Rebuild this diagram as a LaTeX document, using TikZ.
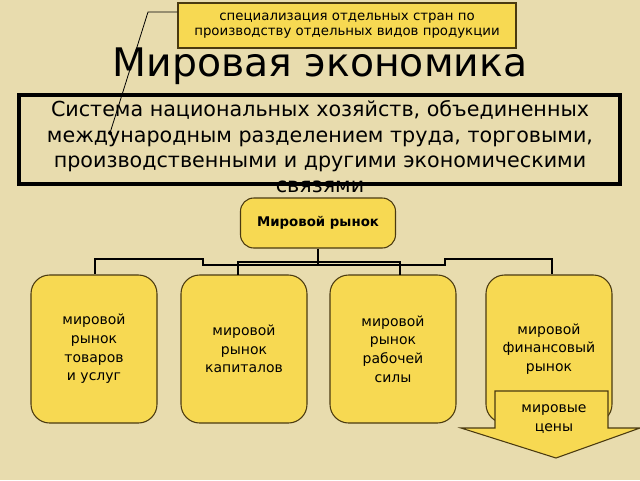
\documentclass[tikz,border=0pt]{standalone}
\usepackage{fontspec}
\setmainfont{DejaVu Sans}
\definecolor{bg}{HTML}{E8DCAE}
\definecolor{yel}{HTML}{F7D952}
\definecolor{edge}{HTML}{4A3A10}
\begin{document}
\begin{tikzpicture}[x=0.75pt,y=-0.75pt,
  box/.style={draw=edge,fill=yel,line width=0.8pt,rounded corners=10pt,align=center,inner sep=0pt},
  conn/.style={line width=1.6pt,black}]
\fill[bg] (0,0) rectangle (640,480);
\useasboundingbox (0,0) rectangle (640,480);
\node[draw=edge,fill=yel,line width=0.8pt,minimum width=338*0.75pt,minimum height=45*0.75pt,align=center,font=\fontsize{10}{11.5}\selectfont] (spec) at (347,25.5) {специализация отдельных стран по\\производству отдельных видов продукции};
\coordinate (c1) at (148,12);
\coordinate (c2) at (110,133);
\draw[line width=0.6pt] (spec.west |- c1) -- (c1) -- (c2);
\fill (c2) circle (1.5pt);
\node[font=\fontsize{29.5}{32}\selectfont] (title) at (320,66) {Мировая экономика};
\draw[line width=3.6pt] (19,95) rectangle (620,184);
\node[align=center,font=\fontsize{15.5}{19}\selectfont] (sys) at (320,147) {Система национальных хозяйств, объединенных\\международным разделением труда, торговыми,\\производственными и другими экономическими\\связями};
\node[box,minimum width=155*0.75pt,minimum height=50*0.75pt,font=\bfseries\fontsize{10}{11}\selectfont] (wm) at (318,223) {Мировой рынок};
\begin{scope}[every node/.style={box,minimum width=126*0.75pt,minimum height=148*0.75pt,font=\fontsize{10.5}{14}\selectfont,rounded corners=14pt}]
\node (m1) at (94,349) {мировой\\рынок\\товаров\\и услуг};
\node (m2) at (244,349) {мировой\\рынок\\капиталов};
\node (m3) at (393,349) {мировой\\рынок\\рабочей\\силы};
\node (m4) at (549,349) {мировой\\финансовый\\рынок};
\end{scope}
\draw[conn] (wm.south) -- (318,265) -- (203,265) -- (203,259) -- (95,259) -- (m1.north -| 95,0);
\draw[conn] (318,265) -- (445,265) -- (445,259) -- (552,259) -- (m4.north -| 552,0);
\draw[conn] (238,275) -- (238,262) -- (400,262) -- (400,275);
\filldraw[draw=edge,fill=yel,line width=0.8pt] (495,391) -- (608,391) -- (608,428) -- (640,428) -- (556,458) -- (461,428) -- (495,428) -- cycle;
\node[align=center,font=\fontsize{10.5}{14}\selectfont] (prices) at (554,419) {мировые\\цены};
\end{tikzpicture}
\end{document}
